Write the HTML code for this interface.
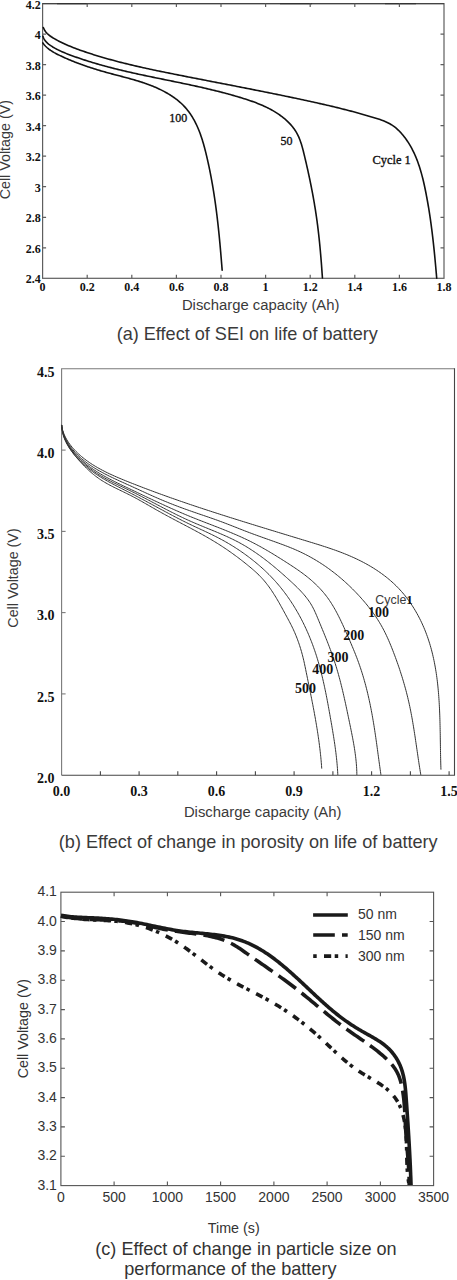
<!DOCTYPE html>
<html><head><meta charset="utf-8"><style>
html,body{margin:0;padding:0;background:#fff;}
body{width:457px;height:1280px;overflow:hidden;}
svg{display:block;}
</style></head><body>
<svg width="457" height="1280" viewBox="0 0 457 1280">
<g stroke="#5e5e5e" stroke-width="1.2" fill="none">
<rect x="42.6" y="3.6" width="401.4" height="274.7"/>
<path d="M42.6 3.6 H444.0" stroke="#444" stroke-width="1.3"/>
<path d="M57 3.6 H88 M280 3.6 H312 M385 3.6 H416" stroke="#333" stroke-width="1.3"/>
<path d="M87.2 278.3 v-3.5 M87.2 3.6 v3.5"/>
<path d="M131.8 278.3 v-3.5 M131.8 3.6 v3.5"/>
<path d="M176.4 278.3 v-3.5 M176.4 3.6 v3.5"/>
<path d="M221.0 278.3 v-3.5 M221.0 3.6 v3.5"/>
<path d="M265.6 278.3 v-3.5 M265.6 3.6 v3.5"/>
<path d="M310.2 278.3 v-3.5 M310.2 3.6 v3.5"/>
<path d="M354.8 278.3 v-3.5 M354.8 3.6 v3.5"/>
<path d="M399.4 278.3 v-3.5 M399.4 3.6 v3.5"/>
<path d="M42.6 34.1 h3.5 M444.0 34.1 h-3.5"/>
<path d="M42.6 64.6 h3.5 M444.0 64.6 h-3.5"/>
<path d="M42.6 95.2 h3.5 M444.0 95.2 h-3.5"/>
<path d="M42.6 125.7 h3.5 M444.0 125.7 h-3.5"/>
<path d="M42.6 156.2 h3.5 M444.0 156.2 h-3.5"/>
<path d="M42.6 186.7 h3.5 M444.0 186.7 h-3.5"/>
<path d="M42.6 217.3 h3.5 M444.0 217.3 h-3.5"/>
<path d="M42.6 247.8 h3.5 M444.0 247.8 h-3.5"/>
</g>
<g stroke="#111" stroke-width="1.6" fill="none" stroke-linecap="round">
<path d="M43.34 27.55 L44.07 29.25 L44.96 30.80 L46.01 32.21 L47.18 33.49 L48.46 34.66 L49.84 35.75 L51.28 36.76 L52.77 37.71 L54.30 38.62 L55.84 39.50 L57.39 40.35 L58.96 41.18 L60.53 41.98 L62.12 42.76 L63.72 43.52 L65.33 44.26 L66.95 44.98 L68.58 45.68 L70.21 46.36 L71.86 47.02 L73.51 47.67 L75.16 48.31 L76.82 48.93 L78.49 49.54 L80.16 50.14 L81.83 50.73 L83.50 51.31 L85.18 51.88 L86.86 52.45 L88.54 53.01 L90.22 53.56 L91.91 54.10 L93.59 54.64 L95.28 55.17 L96.97 55.69 L98.66 56.20 L100.36 56.71 L102.05 57.22 L103.75 57.71 L105.45 58.20 L107.15 58.69 L108.85 59.17 L110.55 59.64 L112.26 60.10 L113.97 60.57 L115.67 61.02 L117.38 61.47 L119.09 61.92 L120.81 62.36 L122.52 62.79 L124.23 63.22 L125.95 63.65 L127.67 64.07 L129.38 64.49 L131.10 64.90 L132.82 65.31 L134.55 65.71 L136.27 66.11 L137.99 66.51 L139.72 66.90 L141.44 67.29 L143.17 67.68 L144.90 68.06 L146.62 68.44 L148.35 68.81 L150.08 69.19 L151.81 69.56 L153.54 69.93 L155.28 70.29 L157.01 70.66 L158.74 71.02 L160.47 71.38 L162.21 71.73 L163.94 72.09 L165.68 72.44 L167.41 72.79 L169.15 73.14 L170.89 73.49 L172.62 73.84 L174.36 74.19 L176.10 74.53 L177.84 74.88 L179.57 75.22 L181.31 75.57 L183.05 75.91 L184.79 76.25 L186.53 76.59 L188.27 76.94 L190.00 77.28 L191.74 77.62 L193.48 77.96 L195.22 78.30 L196.96 78.64 L198.70 78.98 L200.44 79.32 L202.18 79.65 L203.92 79.99 L205.66 80.33 L207.40 80.67 L209.14 81.01 L210.88 81.35 L212.61 81.68 L214.35 82.02 L216.09 82.36 L217.83 82.70 L219.57 83.04 L221.31 83.37 L223.05 83.71 L224.79 84.05 L226.53 84.39 L228.27 84.73 L230.01 85.07 L231.75 85.41 L233.49 85.74 L235.22 86.08 L236.96 86.42 L238.70 86.76 L240.44 87.10 L242.18 87.44 L243.92 87.79 L245.65 88.13 L247.39 88.47 L249.13 88.81 L250.87 89.15 L252.60 89.50 L254.34 89.84 L256.08 90.19 L257.81 90.53 L259.55 90.88 L261.29 91.22 L263.02 91.57 L264.76 91.92 L266.49 92.27 L268.23 92.62 L269.96 92.97 L271.69 93.32 L273.43 93.67 L275.16 94.02 L276.90 94.37 L278.63 94.73 L280.36 95.08 L282.09 95.44 L283.82 95.80 L285.56 96.16 L287.29 96.52 L289.02 96.88 L290.75 97.24 L292.48 97.60 L294.21 97.96 L295.93 98.33 L297.66 98.70 L299.39 99.06 L301.12 99.43 L302.84 99.80 L304.57 100.17 L306.30 100.55 L308.02 100.92 L309.75 101.30 L311.47 101.68 L313.20 102.06 L314.92 102.44 L316.64 102.82 L318.37 103.21 L320.09 103.60 L321.81 103.99 L323.53 104.39 L325.25 104.78 L326.97 105.18 L328.69 105.59 L330.41 105.99 L332.13 106.40 L333.85 106.81 L335.57 107.23 L337.29 107.65 L339.01 108.07 L340.73 108.50 L342.44 108.93 L344.16 109.36 L345.88 109.80 L347.59 110.24 L349.31 110.69 L351.03 111.14 L352.74 111.59 L354.46 112.05 L356.17 112.52 L357.89 112.98 L359.60 113.46 L361.32 113.94 L363.03 114.42 L364.74 114.91 L366.46 115.40 L368.17 115.90 L369.88 116.41 L371.59 116.92 L373.31 117.43 L375.02 117.95 L376.72 118.49 L378.42 119.04 L380.11 119.61 L381.79 120.21 L383.44 120.84 L385.08 121.51 L386.68 122.23 L388.26 122.99 L389.81 123.81 L391.32 124.69 L392.79 125.63 L394.22 126.65 L395.60 127.73 L396.94 128.87 L398.24 130.06 L399.50 131.30 L400.72 132.59 L401.91 133.92 L403.05 135.28 L404.16 136.66 L405.23 138.07 L406.27 139.50 L407.27 140.95 L408.23 142.42 L409.17 143.91 L410.07 145.42 L410.94 146.94 L411.78 148.48 L412.60 150.03 L413.38 151.61 L414.14 153.19 L414.86 154.79 L415.57 156.41 L416.24 158.03 L416.90 159.67 L417.53 161.32 L418.13 162.98 L418.72 164.66 L419.28 166.34 L419.82 168.03 L420.35 169.73 L420.85 171.43 L421.34 173.15 L421.81 174.87 L422.27 176.59 L422.71 178.32 L423.14 180.06 L423.55 181.80 L423.95 183.54 L424.34 185.29 L424.72 187.03 L425.08 188.78 L425.44 190.53 L425.79 192.28 L426.14 194.03 L426.47 195.78 L426.80 197.52 L427.12 199.27 L427.44 201.01 L427.75 202.76 L428.05 204.50 L428.35 206.25 L428.64 207.99 L428.92 209.73 L429.20 211.48 L429.47 213.22 L429.74 214.96 L430.00 216.71 L430.26 218.45 L430.51 220.19 L430.75 221.94 L430.99 223.68 L431.23 225.42 L431.46 227.17 L431.69 228.91 L431.91 230.66 L432.13 232.40 L432.34 234.15 L432.55 235.90 L432.76 237.65 L432.96 239.40 L433.16 241.15 L433.35 242.90 L433.54 244.65 L433.73 246.40 L433.92 248.16 L434.10 249.91 L434.28 251.67 L434.45 253.43 L434.63 255.19 L434.80 256.95 L434.97 258.71 L435.14 260.48 L435.30 262.24 L435.46 264.01 L435.62 265.78 L435.78 267.55 L435.94 269.33 L436.10 271.10 L436.25 272.88 L436.41 274.66 L436.56 276.45 L436.71 278.23"/>
<path d="M42.88 36.16 L43.37 37.56 L43.99 38.85 L44.72 40.04 L45.56 41.14 L46.48 42.17 L47.48 43.12 L48.54 44.02 L49.64 44.87 L50.79 45.68 L51.96 46.45 L53.15 47.20 L54.36 47.91 L55.59 48.60 L56.84 49.27 L58.11 49.91 L59.39 50.53 L60.68 51.13 L61.99 51.72 L63.30 52.28 L64.63 52.83 L65.96 53.37 L67.30 53.90 L68.64 54.41 L69.99 54.92 L71.33 55.43 L72.68 55.92 L74.03 56.41 L75.38 56.90 L76.73 57.37 L78.09 57.85 L79.44 58.31 L80.80 58.77 L82.15 59.23 L83.51 59.68 L84.87 60.12 L86.23 60.56 L87.59 60.99 L88.95 61.42 L90.31 61.84 L91.68 62.26 L93.04 62.67 L94.41 63.08 L95.78 63.49 L97.14 63.89 L98.51 64.28 L99.88 64.67 L101.25 65.06 L102.63 65.44 L104.00 65.82 L105.37 66.19 L106.75 66.56 L108.12 66.92 L109.50 67.28 L110.87 67.64 L112.25 68.00 L113.63 68.35 L115.01 68.70 L116.39 69.04 L117.77 69.38 L119.15 69.72 L120.53 70.05 L121.91 70.38 L123.29 70.71 L124.68 71.04 L126.06 71.36 L127.45 71.68 L128.83 72.00 L130.22 72.32 L131.60 72.63 L132.99 72.94 L134.38 73.25 L135.76 73.56 L137.15 73.86 L138.54 74.16 L139.93 74.47 L141.32 74.76 L142.71 75.06 L144.10 75.36 L145.49 75.65 L146.88 75.95 L148.27 76.24 L149.66 76.53 L151.05 76.82 L152.45 77.11 L153.84 77.40 L155.23 77.69 L156.62 77.97 L158.02 78.26 L159.41 78.55 L160.80 78.83 L162.20 79.12 L163.59 79.40 L164.98 79.69 L166.38 79.97 L167.77 80.26 L169.16 80.54 L170.56 80.83 L171.95 81.11 L173.35 81.40 L174.74 81.68 L176.13 81.97 L177.53 82.26 L178.92 82.55 L180.32 82.83 L181.71 83.12 L183.10 83.42 L184.50 83.71 L185.89 84.00 L187.28 84.30 L188.67 84.59 L190.07 84.89 L191.46 85.19 L192.85 85.49 L194.24 85.79 L195.63 86.10 L197.03 86.40 L198.42 86.71 L199.81 87.02 L201.20 87.34 L202.59 87.65 L203.98 87.97 L205.37 88.29 L206.76 88.61 L208.14 88.94 L209.53 89.27 L210.92 89.60 L212.31 89.93 L213.69 90.27 L215.08 90.61 L216.46 90.95 L217.85 91.30 L219.23 91.65 L220.62 92.00 L222.00 92.36 L223.38 92.72 L224.76 93.09 L226.14 93.46 L227.53 93.83 L228.90 94.21 L230.28 94.59 L231.66 94.97 L233.04 95.36 L234.42 95.76 L235.79 96.15 L237.17 96.56 L238.54 96.96 L239.92 97.38 L241.29 97.79 L242.66 98.22 L244.03 98.65 L245.40 99.08 L246.76 99.52 L248.13 99.97 L249.49 100.43 L250.84 100.90 L252.19 101.37 L253.54 101.86 L254.88 102.35 L256.22 102.86 L257.55 103.38 L258.87 103.91 L260.19 104.45 L261.50 105.00 L262.81 105.57 L264.10 106.15 L265.39 106.75 L266.67 107.36 L267.94 107.99 L269.20 108.63 L270.45 109.29 L271.69 109.97 L272.92 110.67 L274.14 111.38 L275.35 112.12 L276.54 112.87 L277.72 113.64 L278.89 114.43 L280.05 115.25 L281.19 116.08 L282.32 116.94 L283.44 117.82 L284.54 118.73 L285.62 119.65 L286.68 120.60 L287.72 121.58 L288.73 122.57 L289.73 123.59 L290.69 124.64 L291.63 125.70 L292.53 126.79 L293.40 127.91 L294.24 129.05 L295.04 130.21 L295.80 131.39 L296.52 132.60 L297.20 133.83 L297.84 135.09 L298.45 136.36 L299.02 137.66 L299.55 138.97 L300.06 140.30 L300.55 141.64 L301.00 142.99 L301.44 144.36 L301.85 145.74 L302.25 147.12 L302.63 148.51 L303.00 149.91 L303.36 151.31 L303.71 152.72 L304.05 154.12 L304.39 155.53 L304.73 156.93 L305.06 158.34 L305.39 159.74 L305.72 161.14 L306.05 162.54 L306.37 163.94 L306.69 165.34 L307.01 166.74 L307.32 168.13 L307.64 169.53 L307.95 170.93 L308.25 172.32 L308.56 173.71 L308.86 175.11 L309.16 176.50 L309.45 177.90 L309.75 179.29 L310.04 180.68 L310.32 182.07 L310.61 183.47 L310.89 184.86 L311.17 186.25 L311.44 187.64 L311.71 189.04 L311.98 190.43 L312.25 191.82 L312.51 193.22 L312.77 194.61 L313.03 196.00 L313.28 197.40 L313.53 198.79 L313.77 200.19 L314.02 201.58 L314.26 202.98 L314.49 204.38 L314.72 205.78 L314.95 207.18 L315.18 208.58 L315.40 209.98 L315.62 211.38 L315.83 212.78 L316.05 214.19 L316.25 215.59 L316.46 217.00 L316.66 218.41 L316.85 219.82 L317.05 221.23 L317.24 222.64 L317.42 224.05 L317.61 225.47 L317.78 226.88 L317.96 228.30 L318.13 229.72 L318.30 231.14 L318.47 232.56 L318.63 233.98 L318.79 235.40 L318.94 236.82 L319.10 238.24 L319.25 239.66 L319.40 241.09 L319.54 242.51 L319.68 243.93 L319.82 245.36 L319.96 246.78 L320.09 248.20 L320.22 249.63 L320.35 251.05 L320.48 252.47 L320.60 253.90 L320.73 255.32 L320.85 256.74 L320.96 258.16 L321.08 259.58 L321.19 261.00 L321.31 262.42 L321.42 263.84 L321.53 265.26 L321.63 266.68 L321.74 268.09 L321.84 269.51 L321.94 270.92 L322.04 272.33 L322.14 273.74 L322.24 275.15 L322.34 276.56 L322.43 277.96"/>
<path d="M42.86 42.96 L43.50 43.84 L44.18 44.69 L44.88 45.50 L45.62 46.28 L46.39 47.03 L47.18 47.75 L47.99 48.44 L48.83 49.10 L49.70 49.74 L50.58 50.36 L51.48 50.95 L52.39 51.53 L53.32 52.09 L54.26 52.63 L55.22 53.15 L56.19 53.67 L57.16 54.17 L58.14 54.66 L59.12 55.14 L60.11 55.62 L61.10 56.09 L62.09 56.56 L63.09 57.02 L64.09 57.48 L65.09 57.93 L66.09 58.38 L67.09 58.82 L68.10 59.25 L69.11 59.68 L70.12 60.11 L71.14 60.53 L72.15 60.94 L73.17 61.36 L74.19 61.76 L75.21 62.16 L76.23 62.56 L77.26 62.95 L78.28 63.34 L79.31 63.73 L80.34 64.11 L81.37 64.48 L82.41 64.86 L83.44 65.22 L84.48 65.59 L85.52 65.95 L86.56 66.30 L87.60 66.65 L88.64 67.00 L89.68 67.35 L90.73 67.69 L91.77 68.03 L92.82 68.36 L93.87 68.69 L94.91 69.02 L95.96 69.34 L97.01 69.66 L98.06 69.98 L99.12 70.30 L100.17 70.61 L101.22 70.92 L102.28 71.22 L103.33 71.53 L104.39 71.83 L105.44 72.12 L106.50 72.42 L107.56 72.71 L108.61 73.00 L109.67 73.29 L110.73 73.58 L111.79 73.86 L112.85 74.14 L113.90 74.42 L114.96 74.70 L116.02 74.98 L117.08 75.26 L118.14 75.54 L119.19 75.81 L120.25 76.09 L121.31 76.37 L122.37 76.64 L123.42 76.92 L124.48 77.20 L125.53 77.48 L126.59 77.77 L127.64 78.05 L128.69 78.34 L129.74 78.62 L130.79 78.92 L131.84 79.21 L132.89 79.51 L133.94 79.81 L134.98 80.11 L136.03 80.42 L137.07 80.73 L138.11 81.05 L139.15 81.37 L140.19 81.70 L141.22 82.03 L142.26 82.37 L143.29 82.71 L144.32 83.06 L145.35 83.41 L146.38 83.77 L147.40 84.14 L148.42 84.51 L149.45 84.90 L150.46 85.28 L151.48 85.68 L152.49 86.09 L153.50 86.50 L154.51 86.92 L155.51 87.35 L156.52 87.79 L157.52 88.24 L158.51 88.70 L159.51 89.17 L160.50 89.65 L161.49 90.13 L162.47 90.63 L163.45 91.14 L164.43 91.66 L165.40 92.20 L166.38 92.74 L167.34 93.29 L168.30 93.86 L169.26 94.44 L170.21 95.03 L171.15 95.63 L172.09 96.24 L173.01 96.87 L173.93 97.50 L174.84 98.15 L175.74 98.81 L176.62 99.49 L177.50 100.17 L178.36 100.87 L179.20 101.57 L180.04 102.29 L180.86 103.02 L181.66 103.77 L182.45 104.52 L183.22 105.29 L183.98 106.07 L184.72 106.86 L185.44 107.66 L186.15 108.48 L186.84 109.30 L187.51 110.14 L188.18 110.98 L188.82 111.84 L189.45 112.71 L190.07 113.58 L190.68 114.47 L191.27 115.36 L191.84 116.27 L192.41 117.18 L192.96 118.10 L193.50 119.03 L194.02 119.97 L194.54 120.92 L195.04 121.87 L195.53 122.83 L196.01 123.80 L196.48 124.77 L196.94 125.76 L197.38 126.75 L197.82 127.74 L198.24 128.74 L198.66 129.75 L199.07 130.76 L199.47 131.78 L199.86 132.80 L200.24 133.83 L200.61 134.86 L200.97 135.90 L201.33 136.94 L201.67 137.99 L202.01 139.04 L202.35 140.09 L202.67 141.15 L202.99 142.21 L203.30 143.27 L203.61 144.34 L203.91 145.41 L204.21 146.48 L204.50 147.55 L204.78 148.62 L205.06 149.70 L205.34 150.77 L205.61 151.85 L205.88 152.93 L206.14 154.01 L206.40 155.09 L206.65 156.17 L206.91 157.24 L207.16 158.32 L207.40 159.40 L207.65 160.48 L207.89 161.56 L208.13 162.64 L208.37 163.71 L208.60 164.79 L208.83 165.87 L209.06 166.95 L209.28 168.03 L209.51 169.10 L209.73 170.18 L209.94 171.26 L210.16 172.33 L210.37 173.41 L210.58 174.49 L210.79 175.56 L210.99 176.64 L211.19 177.72 L211.39 178.79 L211.59 179.87 L211.79 180.95 L211.98 182.02 L212.17 183.10 L212.36 184.17 L212.55 185.25 L212.73 186.33 L212.91 187.40 L213.09 188.48 L213.27 189.56 L213.44 190.63 L213.62 191.71 L213.79 192.79 L213.96 193.86 L214.12 194.94 L214.29 196.02 L214.45 197.09 L214.61 198.17 L214.77 199.25 L214.93 200.33 L215.08 201.41 L215.23 202.48 L215.39 203.56 L215.54 204.64 L215.68 205.72 L215.83 206.80 L215.97 207.88 L216.12 208.96 L216.26 210.03 L216.40 211.11 L216.53 212.19 L216.67 213.27 L216.80 214.36 L216.94 215.44 L217.07 216.52 L217.20 217.60 L217.33 218.68 L217.45 219.76 L217.58 220.85 L217.70 221.93 L217.83 223.01 L217.95 224.10 L218.07 225.18 L218.19 226.26 L218.30 227.35 L218.42 228.43 L218.53 229.52 L218.65 230.61 L218.76 231.69 L218.87 232.78 L218.98 233.87 L219.09 234.95 L219.20 236.04 L219.31 237.13 L219.41 238.22 L219.52 239.31 L219.62 240.40 L219.72 241.49 L219.83 242.58 L219.93 243.67 L220.03 244.77 L220.13 245.86 L220.23 246.95 L220.32 248.05 L220.42 249.14 L220.52 250.24 L220.61 251.34 L220.71 252.43 L220.80 253.53 L220.89 254.63 L220.99 255.73 L221.08 256.83 L221.17 257.93 L221.26 259.03 L221.35 260.13 L221.44 261.23 L221.53 262.33 L221.62 263.44 L221.71 264.54 L221.80 265.65 L221.89 266.75 L221.98 267.86 L222.06 268.97 L222.15 270.08"/>
</g>
<g font-family='"Liberation Serif", serif' font-weight="bold" font-size="12" fill="#111">
<text x="40.8" y="8.6" text-anchor="end">4.2</text>
<text x="40.8" y="39.1" text-anchor="end">4</text>
<text x="40.8" y="69.6" text-anchor="end">3.8</text>
<text x="40.8" y="100.2" text-anchor="end">3.6</text>
<text x="40.8" y="130.7" text-anchor="end">3.4</text>
<text x="40.8" y="161.2" text-anchor="end">3.2</text>
<text x="40.8" y="191.7" text-anchor="end">3</text>
<text x="40.8" y="222.3" text-anchor="end">2.8</text>
<text x="40.8" y="252.8" text-anchor="end">2.6</text>
<text x="40.8" y="283.3" text-anchor="end">2.4</text>
<text x="42.6" y="291.3" text-anchor="middle">0</text>
<text x="87.2" y="291.3" text-anchor="middle">0.2</text>
<text x="131.8" y="291.3" text-anchor="middle">0.4</text>
<text x="176.4" y="291.3" text-anchor="middle">0.6</text>
<text x="221.0" y="291.3" text-anchor="middle">0.8</text>
<text x="265.6" y="291.3" text-anchor="middle">1</text>
<text x="310.2" y="291.3" text-anchor="middle">1.2</text>
<text x="354.8" y="291.3" text-anchor="middle">1.4</text>
<text x="399.4" y="291.3" text-anchor="middle">1.6</text>
<text x="444.0" y="291.3" text-anchor="middle">1.8</text>
</g>
<g font-family='"Liberation Serif", serif' font-size="12" fill="#111" stroke="#111" stroke-width="0.35">
<text x="169.3" y="122.2">100</text>
<text x="280.6" y="145.1">50</text>
<text x="372.5" y="163.7" font-size="12.4">Cycle 1</text>
</g>
<g font-family='"Liberation Sans", sans-serif' fill="#3a3a3a">
<text x="181.9" y="309.6" font-size="14.85">Discharge capacity (Ah)</text>
<text transform="translate(10.2,149.7) rotate(-90)" text-anchor="middle" font-size="14.3">Cell Voltage (V)</text>
<text x="116.65" y="340.4" font-size="18.1">(a) Effect of SEI on life of battery</text>
</g>
<g stroke-width="1.1" fill="none">
<path d="M61.6 775.2 V368.8 H454.5" stroke="#7a7a7a"/>
<path d="M61.6 775.2 H454.5 V368.3" stroke="#454545"/>
<g stroke="#454545">
<path d="M100.4 775.2 v-4"/>
<path d="M139.1 775.2 v-4"/>
<path d="M177.8 775.2 v-4"/>
<path d="M216.6 775.2 v-4"/>
<path d="M255.4 775.2 v-4"/>
<path d="M294.1 775.2 v-4"/>
<path d="M332.9 775.2 v-4"/>
<path d="M371.6 775.2 v-4"/>
<path d="M410.4 775.2 v-4"/>
<path d="M449.1 775.2 v-4"/>
</g><g stroke="#7a7a7a">
<path d="M61.6 693.9 h4"/>
<path d="M61.6 612.6 h4"/>
<path d="M61.6 531.4 h4"/>
<path d="M61.6 450.1 h4"/>
</g></g>
<g stroke="#333" stroke-width="1" fill="none">
<path d="M61.37 424.95 L61.75 426.94 L62.22 428.88 L62.78 430.77 L63.42 432.62 L64.14 434.42 L64.94 436.18 L65.80 437.90 L66.73 439.57 L67.72 441.20 L68.77 442.79 L69.88 444.35 L71.03 445.86 L72.24 447.34 L73.49 448.78 L74.78 450.18 L76.10 451.55 L77.46 452.88 L78.84 454.18 L80.26 455.44 L81.70 456.68 L83.16 457.88 L84.65 459.06 L86.16 460.20 L87.70 461.32 L89.26 462.40 L90.83 463.47 L92.43 464.50 L94.05 465.52 L95.68 466.51 L97.33 467.47 L99.00 468.42 L100.69 469.34 L102.38 470.25 L104.10 471.13 L105.82 472.00 L107.56 472.86 L109.30 473.69 L111.06 474.51 L112.83 475.32 L114.60 476.11 L116.39 476.90 L118.17 477.67 L119.97 478.43 L121.77 479.18 L123.57 479.92 L125.38 480.66 L127.18 481.39 L128.99 482.11 L130.80 482.83 L132.61 483.55 L134.42 484.26 L136.23 484.96 L138.04 485.67 L139.84 486.37 L141.65 487.06 L143.46 487.75 L145.27 488.44 L147.08 489.13 L148.89 489.81 L150.69 490.48 L152.50 491.16 L154.31 491.83 L156.12 492.49 L157.93 493.16 L159.74 493.82 L161.55 494.48 L163.35 495.13 L165.16 495.78 L166.97 496.43 L168.78 497.07 L170.59 497.72 L172.40 498.35 L174.21 498.99 L176.02 499.62 L177.83 500.25 L179.64 500.88 L181.46 501.51 L183.27 502.13 L185.08 502.75 L186.89 503.37 L188.71 503.99 L190.52 504.60 L192.33 505.21 L194.15 505.82 L195.96 506.43 L197.78 507.03 L199.59 507.63 L201.41 508.23 L203.23 508.83 L205.04 509.43 L206.86 510.03 L208.68 510.62 L210.50 511.21 L212.32 511.80 L214.14 512.39 L215.96 512.98 L217.78 513.56 L219.61 514.15 L221.43 514.73 L223.25 515.31 L225.08 515.89 L226.90 516.47 L228.73 517.05 L230.56 517.63 L232.39 518.20 L234.22 518.78 L236.05 519.35 L237.88 519.92 L239.71 520.50 L241.54 521.07 L243.38 521.64 L245.21 522.21 L247.05 522.78 L248.88 523.35 L250.72 523.92 L252.56 524.49 L254.40 525.05 L256.24 525.62 L258.08 526.19 L259.92 526.76 L261.77 527.32 L263.61 527.89 L265.45 528.45 L267.30 529.02 L269.14 529.58 L270.99 530.15 L272.84 530.71 L274.68 531.28 L276.53 531.84 L278.38 532.41 L280.23 532.97 L282.08 533.53 L283.92 534.10 L285.77 534.66 L287.62 535.22 L289.47 535.79 L291.32 536.35 L293.17 536.91 L295.02 537.47 L296.86 538.03 L298.71 538.60 L300.56 539.16 L302.41 539.72 L304.25 540.28 L306.10 540.84 L307.95 541.40 L309.79 541.97 L311.64 542.53 L313.48 543.10 L315.32 543.66 L317.16 544.23 L319.00 544.81 L320.84 545.39 L322.67 545.97 L324.50 546.57 L326.33 547.16 L328.15 547.77 L329.98 548.38 L331.79 549.00 L333.61 549.64 L335.42 550.28 L337.22 550.93 L339.02 551.59 L340.82 552.27 L342.61 552.96 L344.40 553.66 L346.18 554.38 L347.95 555.11 L349.72 555.86 L351.48 556.63 L353.23 557.41 L354.98 558.21 L356.72 559.02 L358.45 559.86 L360.18 560.71 L361.89 561.58 L363.59 562.47 L365.29 563.38 L366.97 564.31 L368.64 565.26 L370.30 566.22 L371.95 567.21 L373.58 568.21 L375.20 569.24 L376.81 570.29 L378.40 571.36 L379.98 572.44 L381.54 573.55 L383.09 574.69 L384.61 575.84 L386.13 577.01 L387.62 578.21 L389.09 579.43 L390.55 580.67 L391.99 581.94 L393.40 583.23 L394.80 584.54 L396.17 585.87 L397.53 587.23 L398.86 588.61 L400.17 590.02 L401.46 591.45 L402.72 592.91 L403.96 594.39 L405.18 595.89 L406.37 597.41 L407.54 598.95 L408.69 600.51 L409.81 602.09 L410.91 603.69 L411.99 605.30 L413.04 606.93 L414.07 608.58 L415.08 610.24 L416.06 611.92 L417.02 613.61 L417.96 615.31 L418.87 617.02 L419.76 618.75 L420.62 620.48 L421.46 622.23 L422.28 623.98 L423.07 625.75 L423.84 627.51 L424.58 629.29 L425.30 631.07 L426.00 632.86 L426.67 634.66 L427.33 636.46 L427.96 638.26 L428.56 640.08 L429.15 641.90 L429.72 643.72 L430.27 645.55 L430.79 647.39 L431.30 649.23 L431.79 651.08 L432.26 652.93 L432.71 654.78 L433.14 656.64 L433.56 658.51 L433.96 660.38 L434.34 662.25 L434.70 664.13 L435.05 666.01 L435.39 667.90 L435.70 669.79 L436.01 671.68 L436.30 673.58 L436.57 675.48 L436.83 677.38 L437.08 679.29 L437.32 681.19 L437.54 683.11 L437.75 685.02 L437.95 686.94 L438.13 688.85 L438.31 690.78 L438.48 692.70 L438.63 694.62 L438.78 696.55 L438.91 698.48 L439.04 700.41 L439.16 702.34 L439.27 704.27 L439.37 706.20 L439.47 708.14 L439.56 710.07 L439.64 712.01 L439.72 713.94 L439.79 715.88 L439.85 717.81 L439.91 719.75 L439.96 721.68 L440.01 723.62 L440.06 725.56 L440.10 727.49 L440.14 729.42 L440.18 731.36 L440.22 733.29 L440.25 735.22 L440.28 737.15 L440.31 739.08 L440.34 741.01 L440.37 742.93 L440.40 744.86 L440.43 746.78 L440.46 748.70 L440.49 750.61 L440.52 752.53 L440.56 754.44 L440.59 756.35 L440.63 758.26 L440.68 760.16 L440.73 762.06 L440.78 763.96 L440.83 765.86 L440.89 767.75 L440.96 769.63"/>
<path d="M61.56 424.92 L61.83 426.79 L62.17 428.63 L62.60 430.43 L63.10 432.21 L63.67 433.95 L64.32 435.66 L65.03 437.34 L65.80 438.99 L66.64 440.61 L67.54 442.19 L68.48 443.75 L69.48 445.27 L70.53 446.76 L71.63 448.21 L72.77 449.64 L73.94 451.03 L75.15 452.39 L76.40 453.71 L77.68 455.00 L78.98 456.26 L80.31 457.49 L81.66 458.69 L83.04 459.85 L84.45 460.99 L85.87 462.10 L87.32 463.18 L88.79 464.24 L90.27 465.27 L91.78 466.28 L93.30 467.27 L94.85 468.24 L96.40 469.18 L97.97 470.11 L99.56 471.01 L101.16 471.90 L102.77 472.78 L104.39 473.63 L106.02 474.48 L107.66 475.31 L109.31 476.13 L110.96 476.93 L112.62 477.73 L114.29 478.52 L115.96 479.30 L117.64 480.07 L119.31 480.84 L120.99 481.61 L122.67 482.36 L124.35 483.12 L126.02 483.88 L127.70 484.63 L129.37 485.38 L131.03 486.14 L132.70 486.90 L134.35 487.66 L136.01 488.42 L137.66 489.17 L139.31 489.93 L140.96 490.69 L142.60 491.45 L144.25 492.20 L145.89 492.96 L147.54 493.70 L149.18 494.45 L150.83 495.19 L152.48 495.93 L154.13 496.67 L155.78 497.40 L157.44 498.12 L159.10 498.84 L160.77 499.55 L162.43 500.25 L164.11 500.95 L165.79 501.64 L167.47 502.32 L169.15 503.00 L170.84 503.67 L172.54 504.34 L174.23 505.00 L175.93 505.65 L177.63 506.30 L179.34 506.94 L181.05 507.57 L182.76 508.21 L184.47 508.83 L186.19 509.45 L187.91 510.06 L189.63 510.67 L191.35 511.28 L193.08 511.88 L194.80 512.48 L196.53 513.07 L198.26 513.66 L199.99 514.25 L201.72 514.84 L203.44 515.43 L205.17 516.02 L206.90 516.61 L208.63 517.21 L210.35 517.80 L212.07 518.40 L213.80 519.01 L215.52 519.62 L217.23 520.23 L218.95 520.86 L220.66 521.49 L222.36 522.12 L224.07 522.77 L225.77 523.42 L227.47 524.07 L229.17 524.73 L230.86 525.39 L232.56 526.06 L234.26 526.73 L235.95 527.39 L237.65 528.06 L239.34 528.73 L241.04 529.39 L242.73 530.06 L244.43 530.72 L246.13 531.38 L247.84 532.03 L249.54 532.68 L251.25 533.32 L252.96 533.96 L254.68 534.59 L256.39 535.21 L258.11 535.83 L259.83 536.45 L261.55 537.07 L263.27 537.68 L265.00 538.29 L266.72 538.90 L268.44 539.51 L270.16 540.13 L271.89 540.74 L273.61 541.35 L275.33 541.96 L277.04 542.58 L278.76 543.20 L280.47 543.83 L282.18 544.45 L283.89 545.09 L285.59 545.73 L287.29 546.38 L288.98 547.04 L290.67 547.72 L292.35 548.40 L294.02 549.11 L295.68 549.82 L297.34 550.56 L298.99 551.31 L300.63 552.07 L302.26 552.85 L303.88 553.65 L305.49 554.47 L307.10 555.30 L308.70 556.14 L310.28 557.01 L311.87 557.89 L313.44 558.78 L315.00 559.70 L316.56 560.63 L318.10 561.57 L319.64 562.54 L321.17 563.52 L322.69 564.51 L324.20 565.53 L325.71 566.56 L327.20 567.60 L328.68 568.66 L330.16 569.74 L331.63 570.83 L333.08 571.94 L334.53 573.06 L335.96 574.19 L337.39 575.34 L338.81 576.50 L340.21 577.68 L341.61 578.87 L342.99 580.07 L344.37 581.29 L345.73 582.52 L347.08 583.76 L348.42 585.01 L349.75 586.27 L351.07 587.55 L352.38 588.84 L353.67 590.13 L354.95 591.44 L356.22 592.76 L357.48 594.09 L358.73 595.43 L359.96 596.78 L361.18 598.14 L362.39 599.50 L363.59 600.88 L364.77 602.26 L365.94 603.66 L367.10 605.06 L368.24 606.47 L369.36 607.90 L370.47 609.33 L371.57 610.78 L372.64 612.23 L373.70 613.70 L374.74 615.18 L375.77 616.67 L376.77 618.17 L377.76 619.69 L378.72 621.22 L379.67 622.76 L380.59 624.31 L381.49 625.88 L382.37 627.47 L383.23 629.06 L384.07 630.67 L384.89 632.30 L385.69 633.93 L386.47 635.57 L387.24 637.23 L387.99 638.89 L388.73 640.56 L389.45 642.24 L390.16 643.93 L390.85 645.62 L391.54 647.32 L392.22 649.02 L392.88 650.72 L393.54 652.43 L394.19 654.14 L394.84 655.85 L395.47 657.56 L396.10 659.28 L396.72 661.00 L397.34 662.72 L397.94 664.44 L398.54 666.17 L399.13 667.89 L399.71 669.62 L400.28 671.36 L400.84 673.09 L401.39 674.83 L401.94 676.57 L402.48 678.31 L403.00 680.05 L403.52 681.80 L404.03 683.55 L404.53 685.30 L405.02 687.05 L405.50 688.81 L405.97 690.56 L406.44 692.33 L406.89 694.09 L407.33 695.85 L407.76 697.62 L408.18 699.39 L408.59 701.16 L409.00 702.94 L409.39 704.72 L409.77 706.50 L410.14 708.28 L410.50 710.07 L410.85 711.85 L411.20 713.64 L411.54 715.43 L411.87 717.22 L412.19 719.02 L412.50 720.81 L412.81 722.61 L413.12 724.41 L413.41 726.21 L413.71 728.01 L413.99 729.81 L414.28 731.61 L414.56 733.42 L414.83 735.22 L415.11 737.03 L415.38 738.83 L415.64 740.64 L415.91 742.44 L416.17 744.25 L416.44 746.06 L416.70 747.86 L416.96 749.67 L417.22 751.47 L417.49 753.28 L417.75 755.09 L418.01 756.89 L418.28 758.70 L418.55 760.50 L418.82 762.30 L419.09 764.10 L419.37 765.91 L419.65 767.71 L419.94 769.50 L420.22 771.30 L420.52 773.10 L420.82 774.89"/>
<path d="M61.59 424.92 L61.78 426.70 L62.04 428.44 L62.37 430.16 L62.78 431.85 L63.25 433.51 L63.78 435.15 L64.38 436.76 L65.03 438.34 L65.74 439.90 L66.50 441.43 L67.32 442.93 L68.18 444.40 L69.09 445.85 L70.04 447.27 L71.03 448.66 L72.06 450.03 L73.13 451.37 L74.23 452.68 L75.35 453.97 L76.51 455.23 L77.69 456.46 L78.89 457.67 L80.12 458.85 L81.36 460.01 L82.63 461.14 L83.92 462.25 L85.22 463.34 L86.55 464.40 L87.89 465.45 L89.25 466.47 L90.62 467.47 L92.01 468.46 L93.42 469.42 L94.84 470.37 L96.28 471.30 L97.72 472.22 L99.18 473.12 L100.65 474.00 L102.13 474.87 L103.63 475.73 L105.13 476.57 L106.64 477.41 L108.16 478.23 L109.68 479.04 L111.22 479.84 L112.75 480.63 L114.30 481.42 L115.85 482.20 L117.40 482.97 L118.96 483.73 L120.52 484.49 L122.08 485.25 L123.64 486.00 L125.20 486.75 L126.76 487.49 L128.32 488.24 L129.89 488.98 L131.44 489.72 L133.00 490.46 L134.55 491.21 L136.11 491.95 L137.66 492.69 L139.21 493.43 L140.76 494.17 L142.30 494.90 L143.85 495.64 L145.39 496.38 L146.94 497.11 L148.48 497.84 L150.03 498.57 L151.57 499.30 L153.11 500.03 L154.66 500.76 L156.20 501.48 L157.74 502.20 L159.29 502.92 L160.83 503.64 L162.38 504.35 L163.92 505.06 L165.47 505.77 L167.02 506.47 L168.56 507.18 L170.11 507.88 L171.67 508.57 L173.22 509.26 L174.78 509.95 L176.33 510.64 L177.89 511.32 L179.45 512.00 L181.02 512.67 L182.58 513.34 L184.15 514.01 L185.72 514.67 L187.30 515.33 L188.88 515.98 L190.46 516.63 L192.04 517.27 L193.63 517.91 L195.22 518.54 L196.81 519.17 L198.40 519.80 L200.00 520.43 L201.60 521.05 L203.20 521.67 L204.80 522.30 L206.40 522.92 L208.00 523.53 L209.61 524.15 L211.21 524.77 L212.82 525.39 L214.42 526.02 L216.02 526.64 L217.63 527.26 L219.23 527.89 L220.83 528.52 L222.43 529.15 L224.02 529.79 L225.62 530.43 L227.21 531.08 L228.80 531.73 L230.39 532.38 L231.98 533.04 L233.56 533.71 L235.14 534.38 L236.72 535.06 L238.29 535.75 L239.86 536.45 L241.42 537.15 L242.98 537.86 L244.54 538.58 L246.09 539.31 L247.63 540.05 L249.17 540.80 L250.70 541.56 L252.23 542.33 L253.75 543.12 L255.27 543.91 L256.78 544.71 L258.29 545.52 L259.79 546.34 L261.29 547.17 L262.78 548.00 L264.27 548.85 L265.75 549.70 L267.24 550.56 L268.71 551.42 L270.19 552.30 L271.66 553.18 L273.13 554.06 L274.59 554.95 L276.05 555.85 L277.51 556.75 L278.97 557.66 L280.43 558.57 L281.88 559.49 L283.33 560.41 L284.78 561.33 L286.23 562.26 L287.68 563.19 L289.13 564.12 L290.57 565.06 L292.01 566.00 L293.45 566.95 L294.88 567.90 L296.31 568.87 L297.73 569.84 L299.14 570.82 L300.54 571.82 L301.94 572.83 L303.32 573.85 L304.69 574.89 L306.05 575.94 L307.39 577.01 L308.72 578.09 L310.04 579.19 L311.34 580.30 L312.62 581.43 L313.89 582.58 L315.14 583.74 L316.37 584.92 L317.59 586.12 L318.78 587.33 L319.95 588.57 L321.11 589.82 L322.24 591.09 L323.35 592.37 L324.44 593.68 L325.50 595.00 L326.54 596.34 L327.55 597.70 L328.55 599.08 L329.51 600.48 L330.46 601.90 L331.38 603.33 L332.28 604.77 L333.17 606.23 L334.03 607.71 L334.88 609.19 L335.71 610.69 L336.53 612.20 L337.33 613.71 L338.12 615.24 L338.89 616.77 L339.66 618.31 L340.41 619.86 L341.16 621.41 L341.89 622.97 L342.62 624.53 L343.34 626.09 L344.06 627.66 L344.76 629.23 L345.47 630.80 L346.17 632.37 L346.86 633.95 L347.55 635.52 L348.24 637.10 L348.92 638.68 L349.61 640.26 L350.29 641.84 L350.96 643.42 L351.63 645.00 L352.30 646.58 L352.96 648.16 L353.62 649.75 L354.27 651.33 L354.91 652.92 L355.54 654.51 L356.17 656.11 L356.78 657.70 L357.39 659.30 L357.98 660.91 L358.57 662.51 L359.14 664.12 L359.71 665.74 L360.26 667.36 L360.80 668.98 L361.33 670.60 L361.85 672.23 L362.36 673.86 L362.86 675.50 L363.35 677.13 L363.83 678.77 L364.30 680.42 L364.76 682.06 L365.22 683.71 L365.66 685.36 L366.09 687.02 L366.52 688.68 L366.93 690.34 L367.34 692.00 L367.74 693.66 L368.13 695.33 L368.51 697.00 L368.89 698.67 L369.26 700.34 L369.62 702.02 L369.97 703.70 L370.32 705.38 L370.65 707.06 L370.99 708.74 L371.31 710.42 L371.63 712.11 L371.94 713.80 L372.25 715.48 L372.55 717.17 L372.84 718.86 L373.13 720.56 L373.42 722.25 L373.69 723.94 L373.97 725.64 L374.24 727.33 L374.50 729.03 L374.76 730.73 L375.02 732.43 L375.27 734.12 L375.52 735.82 L375.77 737.52 L376.01 739.22 L376.25 740.92 L376.49 742.62 L376.73 744.32 L376.97 746.02 L377.20 747.72 L377.43 749.43 L377.66 751.13 L377.89 752.83 L378.12 754.53 L378.35 756.22 L378.58 757.92 L378.81 759.62 L379.04 761.32 L379.27 763.02 L379.51 764.71 L379.74 766.41 L379.97 768.10 L380.21 769.80 L380.45 771.49 L380.69 773.18 L380.93 774.87"/>
<path d="M61.79 425.00 L61.87 426.69 L62.03 428.36 L62.26 430.01 L62.57 431.63 L62.95 433.23 L63.40 434.80 L63.91 436.35 L64.48 437.87 L65.11 439.38 L65.80 440.85 L66.54 442.31 L67.33 443.74 L68.17 445.16 L69.05 446.55 L69.97 447.92 L70.94 449.26 L71.93 450.59 L72.96 451.90 L74.02 453.18 L75.11 454.45 L76.22 455.70 L77.35 456.92 L78.50 458.13 L79.66 459.32 L80.84 460.49 L82.04 461.64 L83.26 462.77 L84.49 463.88 L85.74 464.97 L87.00 466.04 L88.28 467.09 L89.57 468.11 L90.88 469.12 L92.20 470.10 L93.54 471.07 L94.89 472.01 L96.25 472.92 L97.63 473.82 L99.01 474.70 L100.41 475.56 L101.82 476.40 L103.25 477.22 L104.68 478.03 L106.11 478.82 L107.56 479.60 L109.02 480.37 L110.48 481.13 L111.95 481.88 L113.42 482.62 L114.90 483.35 L116.38 484.08 L117.86 484.80 L119.35 485.52 L120.84 486.24 L122.33 486.95 L123.82 487.66 L125.31 488.38 L126.80 489.09 L128.29 489.81 L129.77 490.54 L131.25 491.27 L132.74 492.00 L134.21 492.74 L135.69 493.48 L137.16 494.23 L138.63 494.98 L140.10 495.74 L141.57 496.49 L143.04 497.25 L144.50 498.02 L145.96 498.78 L147.43 499.55 L148.89 500.32 L150.35 501.09 L151.81 501.86 L153.27 502.63 L154.73 503.40 L156.19 504.17 L157.65 504.94 L159.11 505.71 L160.57 506.47 L162.03 507.24 L163.49 508.00 L164.96 508.77 L166.42 509.53 L167.89 510.28 L169.36 511.04 L170.83 511.79 L172.30 512.53 L173.77 513.28 L175.24 514.01 L176.72 514.75 L178.20 515.47 L179.68 516.20 L181.17 516.91 L182.66 517.62 L184.15 518.33 L185.65 519.02 L187.14 519.71 L188.65 520.39 L190.15 521.07 L191.66 521.74 L193.18 522.39 L194.70 523.05 L196.22 523.69 L197.74 524.34 L199.26 524.97 L200.79 525.61 L202.32 526.24 L203.85 526.86 L205.38 527.49 L206.91 528.11 L208.44 528.74 L209.97 529.36 L211.50 529.99 L213.03 530.62 L214.55 531.25 L216.08 531.88 L217.60 532.52 L219.12 533.16 L220.64 533.81 L222.16 534.46 L223.67 535.12 L225.17 535.79 L226.68 536.46 L228.18 537.15 L229.67 537.84 L231.16 538.55 L232.64 539.26 L234.12 539.99 L235.59 540.73 L237.05 541.48 L238.51 542.24 L239.96 543.02 L241.40 543.82 L242.83 544.63 L244.26 545.45 L245.67 546.29 L247.08 547.14 L248.49 548.01 L249.88 548.88 L251.27 549.77 L252.65 550.68 L254.03 551.59 L255.40 552.52 L256.76 553.46 L258.11 554.41 L259.46 555.37 L260.80 556.34 L262.14 557.32 L263.47 558.31 L264.79 559.31 L266.11 560.32 L267.42 561.34 L268.73 562.37 L270.03 563.40 L271.32 564.44 L272.61 565.49 L273.89 566.55 L275.17 567.61 L276.44 568.68 L277.71 569.76 L278.97 570.84 L280.23 571.93 L281.48 573.02 L282.73 574.12 L283.98 575.22 L285.22 576.33 L286.45 577.44 L287.68 578.55 L288.91 579.66 L290.13 580.78 L291.35 581.90 L292.56 583.03 L293.77 584.16 L294.96 585.29 L296.15 586.43 L297.32 587.59 L298.48 588.75 L299.63 589.92 L300.76 591.10 L301.87 592.30 L302.96 593.51 L304.03 594.73 L305.08 595.98 L306.10 597.24 L307.10 598.52 L308.07 599.82 L309.01 601.14 L309.91 602.49 L310.79 603.86 L311.63 605.26 L312.43 606.68 L313.20 608.13 L313.94 609.60 L314.65 611.09 L315.34 612.60 L316.01 614.12 L316.67 615.65 L317.31 617.19 L317.95 618.73 L318.59 620.27 L319.23 621.81 L319.86 623.35 L320.50 624.89 L321.13 626.42 L321.77 627.96 L322.40 629.49 L323.03 631.03 L323.66 632.56 L324.28 634.09 L324.91 635.63 L325.53 637.16 L326.14 638.70 L326.75 640.23 L327.36 641.77 L327.96 643.30 L328.56 644.84 L329.15 646.38 L329.73 647.92 L330.31 649.46 L330.88 651.01 L331.45 652.55 L332.00 654.10 L332.55 655.65 L333.09 657.21 L333.62 658.76 L334.15 660.32 L334.66 661.88 L335.17 663.45 L335.66 665.01 L336.15 666.58 L336.62 668.16 L337.09 669.73 L337.56 671.31 L338.01 672.89 L338.45 674.48 L338.89 676.06 L339.32 677.65 L339.75 679.24 L340.17 680.84 L340.58 682.43 L340.98 684.03 L341.38 685.62 L341.78 687.22 L342.17 688.83 L342.55 690.43 L342.93 692.03 L343.30 693.64 L343.67 695.25 L344.04 696.86 L344.40 698.47 L344.76 700.08 L345.12 701.69 L345.47 703.30 L345.82 704.92 L346.16 706.53 L346.51 708.14 L346.85 709.76 L347.19 711.38 L347.53 712.99 L347.87 714.61 L348.21 716.22 L348.54 717.84 L348.88 719.46 L349.21 721.07 L349.55 722.69 L349.88 724.30 L350.22 725.92 L350.55 727.54 L350.88 729.15 L351.21 730.77 L351.53 732.38 L351.86 734.00 L352.17 735.62 L352.49 737.23 L352.79 738.85 L353.09 740.47 L353.39 742.09 L353.67 743.71 L353.95 745.34 L354.22 746.96 L354.48 748.59 L354.73 750.22 L354.97 751.84 L355.20 753.48 L355.42 755.11 L355.62 756.74 L355.81 758.38 L355.99 760.02 L356.15 761.66 L356.30 763.31 L356.43 764.96 L356.55 766.61 L356.65 768.26 L356.73 769.92 L356.80 771.58 L356.84 773.24 L356.87 774.91"/>
<path d="M61.65 424.99 L61.79 426.63 L61.99 428.24 L62.25 429.84 L62.56 431.41 L62.93 432.97 L63.35 434.51 L63.82 436.03 L64.34 437.53 L64.91 439.02 L65.52 440.48 L66.18 441.92 L66.88 443.35 L67.63 444.76 L68.41 446.14 L69.23 447.51 L70.08 448.86 L70.97 450.19 L71.90 451.50 L72.85 452.79 L73.84 454.06 L74.85 455.31 L75.89 456.54 L76.95 457.75 L78.04 458.94 L79.14 460.11 L80.27 461.26 L81.42 462.39 L82.59 463.50 L83.78 464.59 L84.98 465.66 L86.21 466.71 L87.44 467.74 L88.70 468.75 L89.97 469.75 L91.25 470.72 L92.54 471.68 L93.85 472.62 L95.16 473.54 L96.49 474.44 L97.83 475.32 L99.17 476.19 L100.53 477.04 L101.89 477.88 L103.26 478.70 L104.64 479.51 L106.03 480.30 L107.42 481.09 L108.81 481.87 L110.22 482.63 L111.62 483.39 L113.03 484.14 L114.45 484.89 L115.87 485.62 L117.29 486.36 L118.71 487.09 L120.14 487.81 L121.56 488.53 L122.99 489.26 L124.42 489.98 L125.85 490.70 L127.27 491.43 L128.70 492.15 L130.12 492.88 L131.55 493.61 L132.97 494.35 L134.39 495.09 L135.81 495.83 L137.22 496.58 L138.64 497.33 L140.05 498.08 L141.46 498.83 L142.88 499.59 L144.29 500.34 L145.70 501.10 L147.11 501.86 L148.52 502.62 L149.93 503.38 L151.34 504.14 L152.74 504.91 L154.15 505.67 L155.56 506.43 L156.97 507.20 L158.38 507.96 L159.79 508.72 L161.20 509.48 L162.61 510.24 L164.02 511.00 L165.43 511.76 L166.84 512.51 L168.26 513.26 L169.67 514.02 L171.09 514.76 L172.50 515.51 L173.92 516.25 L175.34 516.99 L176.77 517.73 L178.19 518.47 L179.62 519.20 L181.04 519.92 L182.47 520.64 L183.91 521.36 L185.34 522.07 L186.78 522.78 L188.22 523.49 L189.66 524.18 L191.11 524.88 L192.55 525.56 L194.00 526.25 L195.46 526.93 L196.91 527.61 L198.36 528.28 L199.82 528.96 L201.27 529.63 L202.72 530.31 L204.18 530.98 L205.63 531.66 L207.08 532.34 L208.53 533.03 L209.98 533.72 L211.42 534.42 L212.86 535.12 L214.30 535.83 L215.73 536.54 L217.16 537.27 L218.58 538.00 L220.00 538.74 L221.41 539.50 L222.82 540.26 L224.22 541.04 L225.62 541.83 L227.01 542.62 L228.39 543.43 L229.77 544.25 L231.14 545.08 L232.50 545.91 L233.86 546.76 L235.22 547.62 L236.56 548.49 L237.90 549.37 L239.24 550.26 L240.56 551.16 L241.88 552.07 L243.20 552.98 L244.51 553.91 L245.81 554.85 L247.10 555.80 L248.39 556.76 L249.67 557.73 L250.94 558.71 L252.20 559.69 L253.46 560.69 L254.71 561.70 L255.95 562.72 L257.18 563.74 L258.40 564.78 L259.62 565.83 L260.82 566.89 L262.02 567.96 L263.20 569.03 L264.38 570.12 L265.55 571.22 L266.70 572.33 L267.85 573.45 L268.99 574.57 L270.11 575.71 L271.23 576.86 L272.33 578.02 L273.43 579.19 L274.51 580.37 L275.58 581.56 L276.64 582.76 L277.69 583.97 L278.72 585.19 L279.75 586.42 L280.76 587.66 L281.76 588.91 L282.76 590.16 L283.73 591.43 L284.70 592.71 L285.66 593.99 L286.60 595.28 L287.54 596.58 L288.46 597.89 L289.37 599.21 L290.27 600.53 L291.16 601.87 L292.03 603.21 L292.90 604.55 L293.75 605.91 L294.59 607.27 L295.42 608.64 L296.24 610.02 L297.05 611.40 L297.85 612.79 L298.63 614.18 L299.41 615.58 L300.17 616.99 L300.92 618.40 L301.66 619.82 L302.39 621.24 L303.11 622.67 L303.82 624.11 L304.51 625.55 L305.20 626.99 L305.87 628.44 L306.54 629.90 L307.19 631.36 L307.83 632.82 L308.47 634.29 L309.09 635.76 L309.70 637.24 L310.30 638.73 L310.89 640.21 L311.48 641.70 L312.05 643.20 L312.61 644.70 L313.16 646.20 L313.70 647.70 L314.23 649.21 L314.76 650.73 L315.27 652.24 L315.77 653.76 L316.27 655.28 L316.75 656.81 L317.23 658.34 L317.69 659.87 L318.15 661.40 L318.60 662.94 L319.04 664.47 L319.47 666.01 L319.89 667.56 L320.30 669.10 L320.71 670.65 L321.11 672.20 L321.50 673.75 L321.88 675.30 L322.26 676.86 L322.63 678.41 L322.99 679.97 L323.35 681.53 L323.70 683.09 L324.05 684.66 L324.39 686.22 L324.73 687.79 L325.06 689.36 L325.38 690.92 L325.70 692.49 L326.02 694.07 L326.33 695.64 L326.64 697.21 L326.94 698.78 L327.24 700.36 L327.54 701.93 L327.84 703.51 L328.13 705.09 L328.42 706.67 L328.70 708.24 L328.99 709.82 L329.27 711.40 L329.55 712.98 L329.83 714.56 L330.11 716.14 L330.39 717.72 L330.67 719.30 L330.95 720.88 L331.22 722.46 L331.50 724.04 L331.77 725.62 L332.04 727.20 L332.31 728.78 L332.57 730.36 L332.83 731.94 L333.09 733.52 L333.35 735.10 L333.60 736.68 L333.85 738.27 L334.09 739.85 L334.33 741.43 L334.57 743.02 L334.80 744.60 L335.02 746.19 L335.24 747.77 L335.45 749.36 L335.66 750.95 L335.86 752.54 L336.05 754.13 L336.24 755.72 L336.42 757.31 L336.59 758.90 L336.75 760.50 L336.91 762.09 L337.05 763.69 L337.19 765.29 L337.32 766.88 L337.44 768.48 L337.55 770.09 L337.65 771.69 L337.74 773.29 L337.82 774.90"/>
<path d="M61.79 425.00 L61.82 426.61 L61.92 428.19 L62.09 429.75 L62.33 431.28 L62.63 432.79 L62.99 434.28 L63.41 435.74 L63.88 437.19 L64.41 438.61 L64.99 440.01 L65.61 441.39 L66.28 442.76 L67.00 444.11 L67.75 445.43 L68.54 446.75 L69.37 448.04 L70.22 449.33 L71.11 450.59 L72.02 451.85 L72.96 453.09 L73.92 454.32 L74.90 455.53 L75.90 456.74 L76.91 457.94 L77.93 459.12 L78.96 460.30 L80.00 461.47 L81.05 462.62 L82.12 463.77 L83.19 464.90 L84.28 466.02 L85.38 467.12 L86.48 468.21 L87.61 469.29 L88.74 470.34 L89.88 471.38 L91.04 472.40 L92.21 473.41 L93.40 474.39 L94.59 475.35 L95.80 476.29 L97.03 477.21 L98.27 478.10 L99.52 478.98 L100.78 479.83 L102.07 480.66 L103.36 481.46 L104.67 482.25 L105.99 483.02 L107.32 483.77 L108.66 484.51 L110.01 485.24 L111.37 485.95 L112.73 486.65 L114.10 487.34 L115.48 488.03 L116.86 488.71 L118.25 489.39 L119.64 490.06 L121.03 490.73 L122.42 491.40 L123.81 492.07 L125.20 492.75 L126.59 493.43 L127.98 494.11 L129.36 494.80 L130.74 495.51 L132.11 496.22 L133.48 496.94 L134.85 497.67 L136.21 498.40 L137.57 499.14 L138.92 499.89 L140.28 500.64 L141.63 501.40 L142.98 502.16 L144.32 502.93 L145.67 503.70 L147.01 504.47 L148.36 505.24 L149.70 506.01 L151.04 506.78 L152.38 507.56 L153.73 508.33 L155.07 509.10 L156.42 509.86 L157.76 510.63 L159.11 511.39 L160.46 512.14 L161.82 512.90 L163.17 513.64 L164.53 514.39 L165.89 515.13 L167.25 515.86 L168.61 516.60 L169.97 517.33 L171.34 518.06 L172.70 518.78 L174.07 519.51 L175.43 520.23 L176.80 520.95 L178.17 521.67 L179.54 522.39 L180.90 523.10 L182.27 523.82 L183.64 524.54 L185.01 525.26 L186.37 525.98 L187.74 526.70 L189.10 527.42 L190.47 528.14 L191.83 528.86 L193.19 529.59 L194.55 530.32 L195.91 531.05 L197.27 531.78 L198.63 532.52 L199.98 533.26 L201.33 534.00 L202.68 534.75 L204.02 535.51 L205.37 536.26 L206.71 537.03 L208.05 537.79 L209.38 538.57 L210.71 539.35 L212.04 540.13 L213.36 540.92 L214.68 541.72 L216.00 542.53 L217.31 543.34 L218.62 544.16 L219.93 544.99 L221.23 545.82 L222.52 546.67 L223.81 547.52 L225.10 548.38 L226.38 549.24 L227.66 550.12 L228.93 551.00 L230.20 551.89 L231.47 552.78 L232.73 553.69 L233.98 554.60 L235.23 555.51 L236.48 556.43 L237.72 557.36 L238.96 558.30 L240.19 559.24 L241.42 560.19 L242.64 561.14 L243.86 562.10 L245.08 563.07 L246.29 564.04 L247.50 565.02 L248.70 566.00 L249.90 566.99 L251.09 567.99 L252.27 568.99 L253.44 570.00 L254.60 571.03 L255.75 572.06 L256.89 573.11 L258.01 574.17 L259.11 575.25 L260.19 576.34 L261.25 577.45 L262.29 578.57 L263.32 579.72 L264.32 580.88 L265.30 582.06 L266.26 583.25 L267.20 584.46 L268.13 585.68 L269.04 586.91 L269.94 588.16 L270.82 589.42 L271.68 590.69 L272.54 591.98 L273.38 593.27 L274.20 594.57 L275.02 595.88 L275.83 597.20 L276.62 598.52 L277.41 599.86 L278.19 601.19 L278.96 602.54 L279.72 603.89 L280.48 605.24 L281.24 606.60 L281.99 607.95 L282.73 609.31 L283.47 610.68 L284.22 612.04 L284.96 613.40 L285.70 614.77 L286.44 616.13 L287.18 617.49 L287.92 618.86 L288.65 620.22 L289.38 621.59 L290.09 622.96 L290.80 624.33 L291.50 625.71 L292.18 627.09 L292.85 628.48 L293.50 629.87 L294.14 631.27 L294.76 632.68 L295.36 634.10 L295.95 635.52 L296.52 636.94 L297.08 638.37 L297.62 639.81 L298.15 641.25 L298.66 642.70 L299.16 644.15 L299.64 645.61 L300.11 647.07 L300.57 648.54 L301.01 650.01 L301.44 651.49 L301.85 652.97 L302.26 654.45 L302.65 655.94 L303.02 657.44 L303.39 658.93 L303.74 660.44 L304.08 661.94 L304.41 663.45 L304.73 664.96 L305.05 666.47 L305.36 667.99 L305.67 669.50 L305.98 671.02 L306.29 672.53 L306.60 674.05 L306.91 675.56 L307.22 677.08 L307.53 678.59 L307.84 680.11 L308.15 681.62 L308.46 683.14 L308.77 684.66 L309.08 686.17 L309.39 687.69 L309.70 689.20 L310.00 690.72 L310.31 692.23 L310.61 693.75 L310.92 695.27 L311.22 696.78 L311.52 698.30 L311.82 699.82 L312.12 701.33 L312.42 702.85 L312.71 704.37 L313.00 705.89 L313.29 707.41 L313.58 708.93 L313.86 710.44 L314.15 711.96 L314.43 713.48 L314.70 715.00 L314.98 716.53 L315.25 718.05 L315.52 719.57 L315.78 721.09 L316.04 722.61 L316.30 724.14 L316.56 725.66 L316.81 727.18 L317.05 728.71 L317.30 730.23 L317.53 731.76 L317.77 733.29 L318.00 734.81 L318.23 736.34 L318.45 737.87 L318.66 739.40 L318.88 740.93 L319.08 742.46 L319.29 743.99 L319.48 745.52 L319.67 747.06 L319.86 748.59 L320.04 750.12 L320.22 751.66 L320.39 753.20 L320.55 754.73 L320.71 756.27 L320.86 757.81 L321.01 759.35 L321.15 760.89 L321.28 762.43 L321.40 763.97 L321.52 765.52 L321.64 767.06 L321.74 768.61"/>
</g>
<g font-family='"Liberation Serif", serif' font-weight="bold" font-size="14" fill="#111">
<text x="54.6" y="376.5" text-anchor="end">4.5</text>
<text x="54.6" y="457.8" text-anchor="end">4.0</text>
<text x="54.6" y="539.1" text-anchor="end">3.5</text>
<text x="54.6" y="620.3" text-anchor="end">3.0</text>
<text x="54.6" y="701.6" text-anchor="end">2.5</text>
<text x="54.6" y="782.9" text-anchor="end">2.0</text>
<text x="61.6" y="796.3" text-anchor="middle">0.0</text>
<text x="139.1" y="796.3" text-anchor="middle">0.3</text>
<text x="216.6" y="796.3" text-anchor="middle">0.6</text>
<text x="294.1" y="796.3" text-anchor="middle">0.9</text>
<text x="371.6" y="796.3" text-anchor="middle">1.2</text>
<text x="449.1" y="796.3" text-anchor="middle">1.5</text>
<text x="368" y="616.8">100</text>
<text x="343.3" y="639.7">200</text>
<text x="327.5" y="662">300</text>
<text x="312.2" y="673.6">400</text>
<text x="295.1" y="692.9">500</text>
<text x="406.2" y="603.8" font-size="13">1</text>
</g>
<g font-family='"Liberation Sans", sans-serif' fill="#3a3a3a">
<text x="375.3" y="603.6" font-size="12.4">Cycle</text>
<text x="183.9" y="817.1" font-size="14.85">Discharge capacity (Ah)</text>
<text transform="translate(17.6,578) rotate(-90)" text-anchor="middle" font-size="14.3">Cell Voltage (V)</text>
<text x="58.8" y="847.6" font-size="18.1">(b) Effect of change in porosity on life of battery</text>
</g>
<g stroke="#555" stroke-width="1.1" fill="none">
<rect x="60.9" y="892.2" width="372.7" height="293.4"/>
<path d="M114.1 1185.6 v-4 M114.1 892.2 v4"/>
<path d="M167.4 1185.6 v-4 M167.4 892.2 v4"/>
<path d="M220.6 1185.6 v-4 M220.6 892.2 v4"/>
<path d="M273.9 1185.6 v-4 M273.9 892.2 v4"/>
<path d="M327.1 1185.6 v-4 M327.1 892.2 v4"/>
<path d="M380.4 1185.6 v-4 M380.4 892.2 v4"/>
<path d="M60.9 1156.3 h4 M433.6 1156.3 h-4"/>
<path d="M60.9 1126.9 h4 M433.6 1126.9 h-4"/>
<path d="M60.9 1097.6 h4 M433.6 1097.6 h-4"/>
<path d="M60.9 1068.2 h4 M433.6 1068.2 h-4"/>
<path d="M60.9 1038.9 h4 M433.6 1038.9 h-4"/>
<path d="M60.9 1009.6 h4 M433.6 1009.6 h-4"/>
<path d="M60.9 980.2 h4 M433.6 980.2 h-4"/>
<path d="M60.9 950.9 h4 M433.6 950.9 h-4"/>
<path d="M60.9 921.5 h4 M433.6 921.5 h-4"/>
</g>
<g stroke="#1a1a1a" stroke-width="3.6" fill="none">
<path d="M60.99 916.15 L62.55 916.50 L64.11 916.82 L65.67 917.12 L67.24 917.40 L68.81 917.66 L70.38 917.90 L71.96 918.11 L73.53 918.32 L75.12 918.50 L76.70 918.67 L78.29 918.83 L79.87 918.97 L81.46 919.10 L83.05 919.23 L84.65 919.34 L86.24 919.44 L87.84 919.54 L89.43 919.63 L91.03 919.71 L92.63 919.79 L94.23 919.87 L95.83 919.95 L97.42 920.02 L99.02 920.10 L100.62 920.18 L102.22 920.26 L103.82 920.35 L105.42 920.44 L107.01 920.53 L108.61 920.64 L110.20 920.75 L111.79 920.87 L113.39 921.00 L114.97 921.15 L116.56 921.31 L118.15 921.48 L119.73 921.66 L121.31 921.87 L122.89 922.09 L124.47 922.33 L126.04 922.58 L127.61 922.86 L129.18 923.16 L130.74 923.47 L132.30 923.80 L133.85 924.15 L135.40 924.53 L136.95 924.91 L138.49 925.32 L140.03 925.75 L141.57 926.19 L143.09 926.65 L144.62 927.13 L146.13 927.62 L147.65 928.14 L149.15 928.67 L150.65 929.21 L152.15 929.78 L153.63 930.36 L155.11 930.96 L156.59 931.58 L158.06 932.21 L159.52 932.86 L160.97 933.52 L162.41 934.20 L163.85 934.90 L165.28 935.62 L166.70 936.35 L168.12 937.09 L169.52 937.85 L170.92 938.63 L172.30 939.42 L173.68 940.23 L175.05 941.05 L176.41 941.89 L177.76 942.74 L179.10 943.61 L180.43 944.49 L181.75 945.38 L183.07 946.28 L184.38 947.20 L185.68 948.12 L186.97 949.05 L188.27 950.00 L189.55 950.95 L190.83 951.90 L192.11 952.86 L193.39 953.83 L194.66 954.80 L195.93 955.78 L197.19 956.75 L198.46 957.73 L199.73 958.71 L200.99 959.69 L202.26 960.67 L203.52 961.64 L204.79 962.62 L206.06 963.59 L207.33 964.56 L208.61 965.52 L209.89 966.47 L211.17 967.42 L212.46 968.36 L213.75 969.30 L215.05 970.22 L216.36 971.13 L217.67 972.04 L218.99 972.93 L220.32 973.81 L221.65 974.68 L222.99 975.53 L224.34 976.37 L225.70 977.21 L227.06 978.03 L228.43 978.84 L229.80 979.64 L231.18 980.44 L232.57 981.23 L233.96 982.01 L235.35 982.78 L236.75 983.54 L238.15 984.30 L239.55 985.06 L240.96 985.81 L242.37 986.56 L243.78 987.30 L245.20 988.04 L246.62 988.77 L248.03 989.51 L249.45 990.24 L250.87 990.98 L252.29 991.71 L253.71 992.44 L255.13 993.18 L256.55 993.91 L257.97 994.65 L259.38 995.39 L260.80 996.13 L262.21 996.88 L263.62 997.63 L265.03 998.39 L266.43 999.15 L267.83 999.92 L269.23 1000.69 L270.62 1001.47 L272.01 1002.26 L273.39 1003.06 L274.77 1003.86 L276.15 1004.68 L277.51 1005.50 L278.87 1006.33 L280.23 1007.18 L281.58 1008.03 L282.92 1008.89 L284.26 1009.76 L285.60 1010.63 L286.92 1011.52 L288.25 1012.41 L289.56 1013.32 L290.87 1014.23 L292.18 1015.15 L293.48 1016.08 L294.77 1017.01 L296.06 1017.95 L297.34 1018.90 L298.62 1019.86 L299.89 1020.83 L301.16 1021.80 L302.42 1022.78 L303.68 1023.77 L304.93 1024.76 L306.17 1025.76 L307.41 1026.77 L308.64 1027.78 L309.87 1028.80 L311.09 1029.82 L312.31 1030.86 L313.52 1031.89 L314.73 1032.94 L315.93 1033.99 L317.12 1035.04 L318.31 1036.10 L319.49 1037.17 L320.67 1038.24 L321.85 1039.32 L323.02 1040.40 L324.18 1041.48 L325.34 1042.57 L326.50 1043.66 L327.66 1044.75 L328.82 1045.84 L329.97 1046.93 L331.13 1048.02 L332.29 1049.11 L333.45 1050.19 L334.61 1051.28 L335.77 1052.36 L336.94 1053.44 L338.11 1054.51 L339.29 1055.58 L340.47 1056.64 L341.66 1057.70 L342.86 1058.75 L344.06 1059.79 L345.27 1060.82 L346.49 1061.84 L347.72 1062.86 L348.96 1063.86 L350.20 1064.85 L351.46 1065.83 L352.74 1066.80 L354.02 1067.75 L355.32 1068.69 L356.63 1069.62 L357.96 1070.53 L359.30 1071.42 L360.66 1072.30 L362.03 1073.17 L363.41 1074.02 L364.80 1074.86 L366.20 1075.70 L367.60 1076.53 L369.00 1077.35 L370.41 1078.18 L371.80 1079.00 L373.20 1079.83 L374.59 1080.66 L375.96 1081.50 L377.33 1082.35 L378.68 1083.21 L380.01 1084.08 L381.33 1084.97 L382.62 1085.87 L383.90 1086.80 L385.14 1087.74 L386.36 1088.71 L387.54 1089.71 L388.70 1090.73 L389.82 1091.78 L390.90 1092.86 L391.95 1093.97 L392.96 1095.11 L393.92 1096.28 L394.85 1097.48 L395.73 1098.71 L396.57 1099.97 L397.37 1101.25 L398.13 1102.57 L398.85 1103.91 L399.52 1105.27 L400.15 1106.66 L400.74 1108.07 L401.30 1109.51 L401.82 1110.97 L402.30 1112.44 L402.75 1113.94 L403.16 1115.45 L403.55 1116.99 L403.90 1118.54 L404.22 1120.10 L404.52 1121.68 L404.79 1123.27 L405.04 1124.88 L405.26 1126.49 L405.46 1128.12 L405.64 1129.76 L405.80 1131.40 L405.94 1133.06 L406.07 1134.72 L406.18 1136.38 L406.27 1138.05 L406.36 1139.73 L406.43 1141.40 L406.49 1143.08 L406.54 1144.76 L406.59 1146.44 L406.63 1148.12 L406.67 1149.80 L406.70 1151.47 L406.74 1153.14 L406.77 1154.81 L406.80 1156.46 L406.83 1158.12 L406.87 1159.76 L406.92 1161.39 L406.97 1163.02 L407.03 1164.63 L407.09 1166.23 L407.17 1167.82 L407.26 1169.40 L407.36 1170.96 L407.48 1172.50 L407.61 1174.03 L407.76 1175.54 L407.93 1177.03 L408.12 1178.51 L408.33 1179.96 L408.56 1181.39 L408.82 1182.80" stroke-dasharray="7.2 3.5 3.5 7.3"/>
<path d="M60.99 916.08 L62.62 916.43 L64.26 916.75 L65.89 917.05 L67.53 917.32 L69.18 917.58 L70.82 917.81 L72.47 918.03 L74.12 918.23 L75.77 918.41 L77.43 918.58 L79.09 918.73 L80.74 918.87 L82.40 919.00 L84.07 919.11 L85.73 919.22 L87.39 919.32 L89.06 919.40 L90.73 919.48 L92.39 919.56 L94.06 919.63 L95.73 919.70 L97.40 919.76 L99.07 919.82 L100.74 919.89 L102.41 919.95 L104.08 920.01 L105.75 920.08 L107.41 920.15 L109.08 920.23 L110.75 920.31 L112.41 920.40 L114.08 920.50 L115.74 920.60 L117.40 920.72 L119.06 920.85 L120.72 920.99 L122.38 921.14 L124.03 921.31 L125.69 921.49 L127.34 921.69 L128.98 921.91 L130.63 922.15 L132.27 922.41 L133.91 922.69 L135.55 922.99 L137.18 923.30 L138.82 923.64 L140.45 923.98 L142.07 924.34 L143.70 924.71 L145.33 925.09 L146.95 925.47 L148.57 925.85 L150.20 926.24 L151.82 926.62 L153.44 927.01 L155.07 927.38 L156.69 927.75 L158.32 928.11 L159.94 928.46 L161.57 928.80 L163.20 929.12 L164.83 929.43 L166.46 929.72 L168.09 930.01 L169.72 930.29 L171.36 930.55 L173.00 930.81 L174.64 931.07 L176.28 931.31 L177.93 931.55 L179.57 931.78 L181.22 932.01 L182.87 932.23 L184.53 932.45 L186.18 932.67 L187.84 932.89 L189.51 933.11 L191.17 933.33 L192.84 933.54 L194.50 933.77 L196.17 933.99 L197.84 934.22 L199.51 934.46 L201.17 934.71 L202.84 934.98 L204.50 935.25 L206.15 935.54 L207.80 935.85 L209.44 936.17 L211.08 936.51 L212.70 936.87 L214.32 937.26 L215.93 937.67 L217.53 938.11 L219.12 938.57 L220.69 939.06 L222.26 939.59 L223.80 940.15 L225.34 940.74 L226.85 941.36 L228.36 942.03 L229.84 942.73 L231.31 943.48 L232.75 944.26 L234.19 945.07 L235.61 945.92 L237.02 946.79 L238.41 947.69 L239.80 948.61 L241.18 949.55 L242.56 950.50 L243.93 951.46 L245.30 952.42 L246.66 953.39 L248.03 954.36 L249.40 955.33 L250.77 956.29 L252.14 957.25 L253.51 958.21 L254.89 959.17 L256.26 960.13 L257.63 961.08 L259.01 962.04 L260.38 962.99 L261.76 963.94 L263.13 964.90 L264.51 965.85 L265.88 966.80 L267.25 967.76 L268.62 968.71 L269.99 969.67 L271.36 970.62 L272.73 971.58 L274.09 972.54 L275.46 973.50 L276.82 974.46 L278.18 975.43 L279.53 976.39 L280.89 977.37 L282.24 978.34 L283.59 979.31 L284.94 980.29 L286.28 981.28 L287.62 982.27 L288.95 983.26 L290.28 984.25 L291.61 985.25 L292.93 986.26 L294.25 987.27 L295.57 988.28 L296.88 989.30 L298.18 990.33 L299.49 991.36 L300.79 992.39 L302.08 993.43 L303.37 994.48 L304.66 995.52 L305.95 996.57 L307.23 997.62 L308.52 998.68 L309.80 999.73 L311.08 1000.79 L312.36 1001.85 L313.63 1002.91 L314.91 1003.97 L316.19 1005.03 L317.47 1006.09 L318.74 1007.16 L320.02 1008.22 L321.30 1009.28 L322.58 1010.34 L323.87 1011.40 L325.15 1012.45 L326.44 1013.51 L327.73 1014.56 L329.02 1015.61 L330.31 1016.66 L331.61 1017.70 L332.91 1018.74 L334.22 1019.77 L335.53 1020.80 L336.84 1021.83 L338.16 1022.85 L339.48 1023.87 L340.81 1024.88 L342.15 1025.89 L343.49 1026.89 L344.83 1027.88 L346.19 1028.86 L347.55 1029.84 L348.91 1030.81 L350.28 1031.78 L351.66 1032.74 L353.04 1033.70 L354.42 1034.66 L355.80 1035.61 L357.19 1036.56 L358.57 1037.51 L359.96 1038.46 L361.34 1039.42 L362.72 1040.37 L364.10 1041.33 L365.47 1042.29 L366.84 1043.25 L368.21 1044.22 L369.56 1045.19 L370.92 1046.17 L372.26 1047.16 L373.59 1048.16 L374.92 1049.16 L376.24 1050.18 L377.54 1051.20 L378.83 1052.24 L380.11 1053.29 L381.38 1054.35 L382.63 1055.42 L383.87 1056.51 L385.09 1057.62 L386.30 1058.74 L387.48 1059.88 L388.64 1061.04 L389.78 1062.22 L390.88 1063.43 L391.94 1064.66 L392.96 1065.92 L393.94 1067.20 L394.86 1068.52 L395.74 1069.87 L396.56 1071.26 L397.32 1072.69 L398.02 1074.14 L398.66 1075.64 L399.25 1077.16 L399.80 1078.71 L400.29 1080.28 L400.75 1081.87 L401.17 1083.48 L401.55 1085.11 L401.90 1086.74 L402.22 1088.39 L402.52 1090.04 L402.80 1091.70 L403.05 1093.36 L403.28 1095.02 L403.50 1096.69 L403.70 1098.36 L403.88 1100.04 L404.04 1101.72 L404.19 1103.40 L404.33 1105.08 L404.46 1106.77 L404.57 1108.45 L404.68 1110.14 L404.78 1111.83 L404.87 1113.52 L404.96 1115.20 L405.04 1116.89 L405.12 1118.58 L405.20 1120.26 L405.28 1121.94 L405.36 1123.63 L405.44 1125.30 L405.53 1126.98 L405.62 1128.65 L405.72 1130.32 L405.82 1131.98 L405.93 1133.64 L406.04 1135.30 L406.17 1136.96 L406.29 1138.61 L406.42 1140.26 L406.55 1141.90 L406.69 1143.55 L406.83 1145.19 L406.97 1146.84 L407.11 1148.48 L407.25 1150.12 L407.39 1151.76 L407.53 1153.40 L407.67 1155.04 L407.81 1156.68 L407.94 1158.33 L408.07 1159.97 L408.20 1161.62 L408.32 1163.27 L408.43 1164.92 L408.54 1166.57 L408.65 1168.22 L408.75 1169.88 L408.84 1171.55 L408.92 1173.21 L408.99 1174.88 L409.05 1176.56 L409.10 1178.24 L409.14 1179.92 L409.17 1181.61 L409.19 1183.31 L409.20 1185.01" stroke-dasharray="21.6 7.2"/>
<path d="M61.01 915.35 L62.68 915.63 L64.36 915.89 L66.04 916.12 L67.72 916.33 L69.40 916.52 L71.09 916.69 L72.77 916.84 L74.46 916.98 L76.15 917.10 L77.84 917.21 L79.54 917.31 L81.23 917.39 L82.93 917.47 L84.62 917.55 L86.32 917.62 L88.02 917.68 L89.72 917.75 L91.42 917.82 L93.12 917.89 L94.82 917.96 L96.52 918.04 L98.22 918.13 L99.92 918.23 L101.61 918.33 L103.31 918.44 L105.01 918.56 L106.71 918.69 L108.41 918.83 L110.10 918.98 L111.79 919.14 L113.49 919.30 L115.18 919.48 L116.87 919.66 L118.56 919.85 L120.24 920.06 L121.93 920.27 L123.61 920.49 L125.29 920.72 L126.96 920.97 L128.64 921.22 L130.31 921.48 L131.98 921.75 L133.64 922.04 L135.30 922.33 L136.96 922.63 L138.62 922.95 L140.27 923.26 L141.93 923.59 L143.58 923.92 L145.22 924.26 L146.87 924.60 L148.52 924.94 L150.17 925.29 L151.81 925.64 L153.46 925.99 L155.10 926.33 L156.75 926.68 L158.40 927.03 L160.05 927.37 L161.70 927.71 L163.35 928.05 L165.01 928.38 L166.66 928.70 L168.32 929.02 L169.98 929.33 L171.65 929.63 L173.32 929.92 L174.99 930.21 L176.66 930.48 L178.34 930.74 L180.03 930.98 L181.72 931.21 L183.41 931.43 L185.11 931.64 L186.81 931.84 L188.51 932.03 L190.22 932.21 L191.93 932.39 L193.64 932.56 L195.35 932.73 L197.06 932.90 L198.78 933.06 L200.49 933.22 L202.20 933.39 L203.92 933.55 L205.63 933.72 L207.33 933.90 L209.04 934.08 L210.74 934.26 L212.45 934.46 L214.14 934.66 L215.84 934.88 L217.52 935.11 L219.21 935.34 L220.89 935.60 L222.56 935.87 L224.23 936.15 L225.89 936.46 L227.54 936.78 L229.19 937.12 L230.83 937.49 L232.46 937.87 L234.08 938.28 L235.69 938.72 L237.29 939.18 L238.89 939.67 L240.47 940.19 L242.04 940.74 L243.60 941.31 L245.15 941.92 L246.69 942.55 L248.22 943.20 L249.74 943.89 L251.25 944.60 L252.75 945.33 L254.25 946.09 L255.73 946.87 L257.20 947.67 L258.66 948.49 L260.12 949.34 L261.56 950.20 L263.00 951.09 L264.42 951.99 L265.84 952.92 L267.25 953.86 L268.66 954.82 L270.05 955.79 L271.44 956.78 L272.82 957.78 L274.19 958.80 L275.55 959.83 L276.91 960.88 L278.26 961.93 L279.60 963.00 L280.93 964.08 L282.26 965.17 L283.58 966.27 L284.89 967.38 L286.20 968.49 L287.50 969.61 L288.80 970.74 L290.09 971.88 L291.37 973.02 L292.65 974.16 L293.92 975.31 L295.19 976.46 L296.45 977.62 L297.71 978.78 L298.97 979.94 L300.22 981.10 L301.46 982.26 L302.71 983.43 L303.95 984.59 L305.19 985.76 L306.43 986.93 L307.66 988.09 L308.90 989.26 L310.13 990.42 L311.37 991.59 L312.60 992.75 L313.84 993.91 L315.07 995.07 L316.31 996.22 L317.55 997.37 L318.79 998.52 L320.04 999.66 L321.29 1000.80 L322.54 1001.93 L323.79 1003.06 L325.05 1004.18 L326.31 1005.30 L327.58 1006.41 L328.85 1007.52 L330.13 1008.61 L331.42 1009.70 L332.71 1010.79 L334.01 1011.86 L335.31 1012.93 L336.62 1013.98 L337.94 1015.03 L339.27 1016.07 L340.61 1017.10 L341.96 1018.11 L343.32 1019.12 L344.68 1020.12 L346.06 1021.10 L347.45 1022.07 L348.85 1023.03 L350.26 1023.98 L351.68 1024.92 L353.11 1025.84 L354.55 1026.76 L356.00 1027.66 L357.46 1028.56 L358.93 1029.44 L360.41 1030.32 L361.90 1031.19 L363.39 1032.05 L364.90 1032.90 L366.41 1033.75 L367.92 1034.59 L369.43 1035.44 L370.94 1036.29 L372.45 1037.14 L373.94 1038.00 L375.42 1038.88 L376.89 1039.77 L378.33 1040.67 L379.76 1041.60 L381.16 1042.55 L382.53 1043.52 L383.88 1044.53 L385.19 1045.56 L386.46 1046.63 L387.69 1047.74 L388.89 1048.88 L390.04 1050.06 L391.15 1051.27 L392.22 1052.51 L393.25 1053.79 L394.24 1055.11 L395.18 1056.45 L396.08 1057.82 L396.94 1059.22 L397.76 1060.65 L398.53 1062.11 L399.25 1063.59 L399.94 1065.09 L400.58 1066.62 L401.17 1068.18 L401.72 1069.75 L402.22 1071.35 L402.68 1072.97 L403.10 1074.60 L403.49 1076.25 L403.83 1077.92 L404.15 1079.60 L404.43 1081.29 L404.69 1082.99 L404.92 1084.71 L405.13 1086.43 L405.32 1088.15 L405.49 1089.89 L405.65 1091.62 L405.80 1093.36 L405.93 1095.10 L406.06 1096.83 L406.18 1098.57 L406.31 1100.30 L406.43 1102.03 L406.55 1103.75 L406.67 1105.47 L406.79 1107.18 L406.91 1108.89 L407.03 1110.60 L407.14 1112.31 L407.26 1114.01 L407.37 1115.71 L407.49 1117.40 L407.60 1119.10 L407.71 1120.79 L407.83 1122.48 L407.94 1124.16 L408.05 1125.85 L408.15 1127.53 L408.26 1129.21 L408.37 1130.89 L408.47 1132.57 L408.58 1134.25 L408.68 1135.93 L408.78 1137.61 L408.88 1139.28 L408.98 1140.96 L409.08 1142.63 L409.17 1144.31 L409.27 1145.99 L409.36 1147.66 L409.45 1149.34 L409.55 1151.02 L409.63 1152.70 L409.72 1154.38 L409.81 1156.06 L409.89 1157.75 L409.98 1159.43 L410.06 1161.12 L410.14 1162.81 L410.22 1164.50 L410.30 1166.19 L410.37 1167.89 L410.44 1169.59 L410.52 1171.29 L410.59 1172.99 L410.65 1174.70 L410.72 1176.41 L410.79 1178.13 L410.85 1179.85 L410.91 1181.57 L410.97 1183.30 L411.03 1185.03"/>
<path d="M313.1 915h34.7"/>
<path d="M313.2 935h34.5" stroke-dasharray="21.6 7.2"/>
<path d="M313.2 956.1h34.5" stroke-dasharray="7.2 3.5 3.5 7.3" stroke-dashoffset="10.7"/>
</g>
<g font-family='"Liberation Sans", sans-serif' fill="#333" font-size="14">
<text x="56.9" y="1189.6" text-anchor="end">3.1</text>
<text x="56.9" y="1160.3" text-anchor="end">3.2</text>
<text x="56.9" y="1130.9" text-anchor="end">3.3</text>
<text x="56.9" y="1101.6" text-anchor="end">3.4</text>
<text x="56.9" y="1072.2" text-anchor="end">3.5</text>
<text x="56.9" y="1042.9" text-anchor="end">3.6</text>
<text x="56.9" y="1013.6" text-anchor="end">3.7</text>
<text x="56.9" y="984.2" text-anchor="end">3.8</text>
<text x="56.9" y="954.9" text-anchor="end">3.9</text>
<text x="56.9" y="925.5" text-anchor="end">4.0</text>
<text x="56.9" y="896.2" text-anchor="end">4.1</text>
<text x="60.9" y="1201.9" text-anchor="middle">0</text>
<text x="114.1" y="1201.9" text-anchor="middle">500</text>
<text x="167.4" y="1201.9" text-anchor="middle">1000</text>
<text x="220.6" y="1201.9" text-anchor="middle">1500</text>
<text x="273.9" y="1201.9" text-anchor="middle">2000</text>
<text x="327.1" y="1201.9" text-anchor="middle">2500</text>
<text x="380.4" y="1201.9" text-anchor="middle">3000</text>
<text x="433.6" y="1201.9" text-anchor="middle">3500</text>
</g>
<g font-family='"Liberation Sans", sans-serif' fill="#333">
<text x="358" y="919" font-size="14">50 nm</text>
<text x="358" y="940" font-size="14">150 nm</text>
<text x="358" y="961" font-size="14">300 nm</text>
<text x="207.8" y="1232.6" font-size="14.3">Time (s)</text>
<text transform="translate(28,1028.7) rotate(-90)" text-anchor="middle" font-size="14.3">Cell Voltage (V)</text>
<text x="95.3" y="1255" font-size="18.1">(c) Effect of change in particle size on</text>
<text x="124.3" y="1274.8" font-size="18.1">performance of the battery</text>
</g>
</svg>
</body></html>
